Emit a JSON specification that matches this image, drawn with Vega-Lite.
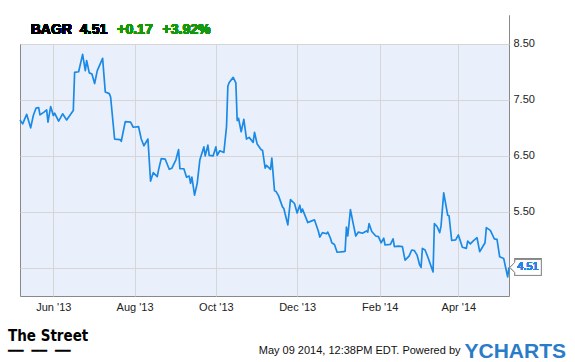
{
  "$schema": "https://vega.github.io/schema/vega-lite/v6.json",
  "width": 489,
  "height": 281,
  "autosize": {"type": "none"},
  "padding": {"left": 20, "top": 15, "right": 66, "bottom": 66},
  "background": "#ffffff",
  "config": {
    "font": "Liberation Sans",
    "view": {"stroke": "#888888", "strokeWidth": 1, "fill": "#eaf0fb"}
  },
  "title": {
    "text": "The Street",
    "subtitle": "━━ ━━ ━━",
    "orient": "top",
    "anchor": "start",
    "frame": "group",
    "offset": 0,
    "dx": -12,
    "dy": 343,
    "font": "DejaVu Sans Condensed",
    "fontSize": 15,
    "fontWeight": "bold",
    "color": "#000000",
    "subtitleFont": "DejaVu Sans Mono",
    "subtitleFontSize": 13,
    "subtitleColor": "#000000",
    "subtitlePadding": 1
  },
  "data": {
    "values": [
      {"date": "2013-05-07", "price": 7.14},
      {"date": "2013-05-09", "price": 7.07},
      {"date": "2013-05-12", "price": 7.24},
      {"date": "2013-05-15", "price": 7.00},
      {"date": "2013-05-17", "price": 7.22},
      {"date": "2013-05-19", "price": 7.35},
      {"date": "2013-05-21", "price": 7.36},
      {"date": "2013-05-22", "price": 7.23},
      {"date": "2013-05-25", "price": 7.28},
      {"date": "2013-05-27", "price": 7.32},
      {"date": "2013-05-28", "price": 7.10},
      {"date": "2013-05-30", "price": 7.38},
      {"date": "2013-06-01", "price": 7.22},
      {"date": "2013-06-02", "price": 7.26},
      {"date": "2013-06-05", "price": 7.12},
      {"date": "2013-06-08", "price": 7.25},
      {"date": "2013-06-11", "price": 7.14},
      {"date": "2013-06-16", "price": 7.31},
      {"date": "2013-06-17", "price": 7.99},
      {"date": "2013-06-20", "price": 8.00},
      {"date": "2013-06-23", "price": 8.31},
      {"date": "2013-06-25", "price": 8.02},
      {"date": "2013-06-26", "price": 8.20},
      {"date": "2013-06-28", "price": 7.98},
      {"date": "2013-06-30", "price": 7.96},
      {"date": "2013-07-02", "price": 7.79},
      {"date": "2013-07-04", "price": 8.02},
      {"date": "2013-07-08", "price": 8.24},
      {"date": "2013-07-10", "price": 7.64},
      {"date": "2013-07-13", "price": 7.61},
      {"date": "2013-07-14", "price": 7.55},
      {"date": "2013-07-17", "price": 6.80},
      {"date": "2013-07-21", "price": 6.79},
      {"date": "2013-07-22", "price": 6.76},
      {"date": "2013-07-25", "price": 7.11},
      {"date": "2013-07-29", "price": 7.10},
      {"date": "2013-07-31", "price": 7.01},
      {"date": "2013-08-04", "price": 7.02},
      {"date": "2013-08-06", "price": 6.80},
      {"date": "2013-08-08", "price": 6.68},
      {"date": "2013-08-11", "price": 6.80},
      {"date": "2013-08-13", "price": 6.05},
      {"date": "2013-08-15", "price": 6.20},
      {"date": "2013-08-18", "price": 6.13},
      {"date": "2013-08-19", "price": 6.25},
      {"date": "2013-08-21", "price": 6.45},
      {"date": "2013-08-24", "price": 6.44},
      {"date": "2013-08-27", "price": 6.26},
      {"date": "2013-08-29", "price": 6.28},
      {"date": "2013-09-01", "price": 6.43},
      {"date": "2013-09-03", "price": 6.61},
      {"date": "2013-09-04", "price": 6.27},
      {"date": "2013-09-07", "price": 6.27},
      {"date": "2013-09-09", "price": 6.12},
      {"date": "2013-09-11", "price": 6.14},
      {"date": "2013-09-12", "price": 6.01},
      {"date": "2013-09-13", "price": 6.12},
      {"date": "2013-09-15", "price": 5.80},
      {"date": "2013-09-17", "price": 6.01},
      {"date": "2013-09-19", "price": 6.43},
      {"date": "2013-09-22", "price": 6.66},
      {"date": "2013-09-23", "price": 6.50},
      {"date": "2013-09-25", "price": 6.69},
      {"date": "2013-09-26", "price": 6.51},
      {"date": "2013-09-29", "price": 6.50},
      {"date": "2013-10-01", "price": 6.66},
      {"date": "2013-10-02", "price": 6.51},
      {"date": "2013-10-04", "price": 6.59},
      {"date": "2013-10-07", "price": 6.56},
      {"date": "2013-10-09", "price": 7.02},
      {"date": "2013-10-10", "price": 7.74},
      {"date": "2013-10-11", "price": 7.81},
      {"date": "2013-10-14", "price": 7.90},
      {"date": "2013-10-16", "price": 7.80},
      {"date": "2013-10-17", "price": 7.13},
      {"date": "2013-10-18", "price": 7.17},
      {"date": "2013-10-20", "price": 6.93},
      {"date": "2013-10-22", "price": 7.15},
      {"date": "2013-10-24", "price": 6.80},
      {"date": "2013-10-26", "price": 6.83},
      {"date": "2013-10-29", "price": 6.74},
      {"date": "2013-10-30", "price": 6.92},
      {"date": "2013-11-01", "price": 6.71},
      {"date": "2013-11-04", "price": 6.61},
      {"date": "2013-11-05", "price": 6.60},
      {"date": "2013-11-07", "price": 6.28},
      {"date": "2013-11-08", "price": 6.33},
      {"date": "2013-11-11", "price": 6.26},
      {"date": "2013-11-12", "price": 6.46},
      {"date": "2013-11-14", "price": 5.88},
      {"date": "2013-11-15", "price": 5.87},
      {"date": "2013-11-17", "price": 5.79},
      {"date": "2013-11-20", "price": 5.59},
      {"date": "2013-11-21", "price": 5.56},
      {"date": "2013-11-24", "price": 5.27},
      {"date": "2013-11-26", "price": 5.72},
      {"date": "2013-11-29", "price": 5.65},
      {"date": "2013-12-01", "price": 5.48},
      {"date": "2013-12-03", "price": 5.62},
      {"date": "2013-12-04", "price": 5.49},
      {"date": "2013-12-05", "price": 5.55},
      {"date": "2013-12-09", "price": 5.31},
      {"date": "2013-12-12", "price": 5.34},
      {"date": "2013-12-14", "price": 5.36},
      {"date": "2013-12-17", "price": 5.15},
      {"date": "2013-12-18", "price": 5.05},
      {"date": "2013-12-20", "price": 5.13},
      {"date": "2013-12-23", "price": 5.11},
      {"date": "2013-12-24", "price": 5.14},
      {"date": "2013-12-26", "price": 5.03},
      {"date": "2013-12-27", "price": 4.95},
      {"date": "2013-12-29", "price": 4.92},
      {"date": "2013-12-31", "price": 4.78},
      {"date": "2014-01-05", "price": 4.79},
      {"date": "2014-01-06", "price": 4.80},
      {"date": "2014-01-07", "price": 5.23},
      {"date": "2014-01-08", "price": 5.07},
      {"date": "2014-01-10", "price": 5.54},
      {"date": "2014-01-12", "price": 5.30},
      {"date": "2014-01-14", "price": 5.07},
      {"date": "2014-01-16", "price": 5.14},
      {"date": "2014-01-19", "price": 5.12},
      {"date": "2014-01-22", "price": 5.16},
      {"date": "2014-01-23", "price": 5.14},
      {"date": "2014-01-24", "price": 5.29},
      {"date": "2014-01-26", "price": 5.15},
      {"date": "2014-01-29", "price": 5.07},
      {"date": "2014-01-31", "price": 5.06},
      {"date": "2014-02-02", "price": 4.95},
      {"date": "2014-02-04", "price": 5.03},
      {"date": "2014-02-05", "price": 4.91},
      {"date": "2014-02-09", "price": 4.92},
      {"date": "2014-02-11", "price": 5.02},
      {"date": "2014-02-12", "price": 4.88},
      {"date": "2014-02-15", "price": 4.89},
      {"date": "2014-02-18", "price": 4.88},
      {"date": "2014-02-20", "price": 4.64},
      {"date": "2014-02-23", "price": 4.71},
      {"date": "2014-02-25", "price": 4.82},
      {"date": "2014-02-27", "price": 4.81},
      {"date": "2014-03-01", "price": 4.73},
      {"date": "2014-03-03", "price": 4.55},
      {"date": "2014-03-04", "price": 4.51},
      {"date": "2014-03-05", "price": 4.85},
      {"date": "2014-03-07", "price": 4.82},
      {"date": "2014-03-09", "price": 4.70},
      {"date": "2014-03-13", "price": 4.43},
      {"date": "2014-03-14", "price": 5.29},
      {"date": "2014-03-16", "price": 5.24},
      {"date": "2014-03-18", "price": 5.13},
      {"date": "2014-03-19", "price": 5.25},
      {"date": "2014-03-21", "price": 5.84},
      {"date": "2014-03-24", "price": 5.44},
      {"date": "2014-03-25", "price": 5.43},
      {"date": "2014-03-27", "price": 4.99},
      {"date": "2014-03-30", "price": 5.00},
      {"date": "2014-04-01", "price": 5.09},
      {"date": "2014-04-04", "price": 4.87},
      {"date": "2014-04-07", "price": 4.85},
      {"date": "2014-04-08", "price": 4.98},
      {"date": "2014-04-10", "price": 4.93},
      {"date": "2014-04-12", "price": 4.98},
      {"date": "2014-04-15", "price": 5.04},
      {"date": "2014-04-17", "price": 4.79},
      {"date": "2014-04-21", "price": 4.95},
      {"date": "2014-04-22", "price": 5.22},
      {"date": "2014-04-25", "price": 5.17},
      {"date": "2014-04-28", "price": 5.02},
      {"date": "2014-04-30", "price": 5.01},
      {"date": "2014-05-02", "price": 4.70},
      {"date": "2014-05-05", "price": 4.67},
      {"date": "2014-05-07", "price": 4.45},
      {"date": "2014-05-08", "price": 4.34},
      {"date": "2014-05-09", "price": 4.51}
    ]
  },
  "encoding": {
    "x": {
      "field": "date",
      "type": "temporal",
      "scale": {
        "type": "utc",
        "domain": [
          {"year": 2013, "month": 5, "date": 7, "utc": true},
          {"year": 2014, "month": 5, "date": 9, "utc": true}
        ],
        "nice": false
      },
      "axis": {
        "values": [
          {"year": 2013, "month": 6, "date": 1, "utc": true},
          {"year": 2013, "month": 8, "date": 1, "utc": true},
          {"year": 2013, "month": 10, "date": 1, "utc": true},
          {"year": 2013, "month": 12, "date": 1, "utc": true},
          {"year": 2014, "month": 2, "date": 1, "utc": true},
          {"year": 2014, "month": 4, "date": 1, "utc": true}
        ],
        "format": "%b '%y",
        "grid": true,
        "gridColor": "#d6d6d6",
        "gridWidth": 1,
        "ticks": false,
        "domain": false,
        "labelFontSize": 11,
        "labelColor": "#222222",
        "labelPadding": 5,
        "title": "May 09 2014, 12:38PM EDT.  Powered by",
        "titleFontSize": 11,
        "titleFontWeight": "normal",
        "titleColor": "#111111",
        "titleAlign": "right",
        "titleBaseline": "alphabetic",
        "titleX": 440,
        "titleY": 57
      }
    },
    "y": {
      "field": "price",
      "type": "quantitative",
      "scale": {"domain": [4.0, 9.0125], "nice": false, "zero": false},
      "axis": {
        "orient": "right",
        "values": [4.5, 5.5, 6.5, 7.5, 8.5],
        "labelExpr": "datum.value == 4.5 ? '' : format(datum.value, '.2f')",
        "grid": true,
        "gridColor": "#d6d6d6",
        "gridWidth": 1,
        "ticks": false,
        "domain": false,
        "labelFontSize": 11,
        "labelColor": "#222222",
        "labelPadding": 4,
        "title": "YCHARTS",
        "titleAngle": 0,
        "titleAlign": "left",
        "titleBaseline": "alphabetic",
        "titleX": -45,
        "titleY": 342,
        "titleFont": "Liberation Sans",
        "titleFontSize": 21,
        "titleFontWeight": "bold",
        "titleColor": "#2a7cc7"
      }
    }
  },
  "layer": [
    {
      "mark": {"type": "rect", "fill": "#ffffff", "opacity": 0.5},
      "encoding": {
        "x": {"datum": {"year": 2013, "month": 5, "date": 7, "utc": true}, "type": "temporal"},
        "x2": {"datum": {"year": 2014, "month": 5, "date": 9, "utc": true}},
        "y": {"datum": 8.5, "type": "quantitative"},
        "y2": {"datum": 9.0125}
      }
    },
    {
      "mark": {"type": "line", "stroke": "#1a8ae6", "strokeWidth": 1.7, "strokeJoin": "round"}
    },
    {
      "mark": {
        "type": "point",
        "shape": "M0.18,-0.25L1.01,-0.25L1.01,0.25L0.18,0.25L0.18,0.16L0.03,0L0.18,-0.16Z",
        "size": 4096,
        "filled": true,
        "fill": "#ffffff",
        "stroke": "#8a8a8a",
        "strokeWidth": 1,
        "opacity": 1
      },
      "encoding": {
        "x": {"datum": {"year": 2014, "month": 5, "date": 9, "utc": true}, "type": "temporal"},
        "y": {"datum": 4.51, "type": "quantitative"}
      }
    },
    {
      "mark": {"type": "text", "text": "4.51", "fontSize": 11, "color": "#1a8ae6", "align": "center", "baseline": "middle", "dx": 19},
      "encoding": {
        "x": {"datum": {"year": 2014, "month": 5, "date": 9, "utc": true}, "type": "temporal"},
        "y": {"datum": 4.51, "type": "quantitative"}
      }
    },
    {
      "mark": {"type": "text", "text": "BAGR", "fontSize": 14, "fontWeight": "bold", "color": "#000000", "align": "left", "baseline": "alphabetic"},
      "encoding": {
        "x": {"datum": {"year": 2013, "month": 5, "date": 15, "utc": true}, "type": "temporal"},
        "y": {"datum": 8.68, "type": "quantitative"}
      }
    },
    {
      "mark": {"type": "text", "text": "4.51", "fontSize": 14, "fontWeight": "bold", "color": "#000000", "align": "left", "baseline": "alphabetic"},
      "encoding": {
        "x": {"datum": {"year": 2013, "month": 6, "date": 21, "utc": true}, "type": "temporal"},
        "y": {"datum": 8.68, "type": "quantitative"}
      }
    },
    {
      "mark": {"type": "text", "text": "+0.17", "fontSize": 14, "fontWeight": "bold", "color": "#119911", "align": "left", "baseline": "alphabetic"},
      "encoding": {
        "x": {"datum": {"year": 2013, "month": 7, "date": 19, "utc": true}, "type": "temporal"},
        "y": {"datum": 8.68, "type": "quantitative"}
      }
    },
    {
      "mark": {"type": "text", "text": "+3.92%", "fontSize": 14, "fontWeight": "bold", "color": "#119911", "align": "left", "baseline": "alphabetic"},
      "encoding": {
        "x": {"datum": {"year": 2013, "month": 8, "date": 22, "utc": true}, "type": "temporal"},
        "y": {"datum": 8.68, "type": "quantitative"}
      }
    }
  ]
}
